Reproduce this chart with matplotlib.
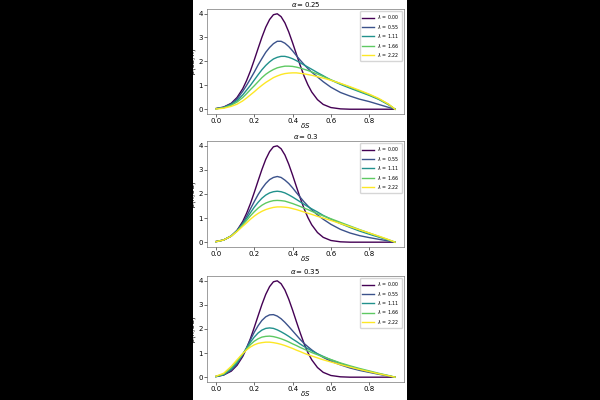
import matplotlib
matplotlib.use("Agg")
import matplotlib.pyplot as plt
from matplotlib.patches import Rectangle

# valores (delta S comun para todas las curvas)
dS = [0.0, 0.04, 0.08, 0.11, 0.14, 0.16, 0.18, 0.20, 0.22, 0.24, 0.26, 0.28, 0.30,
      0.32, 0.34, 0.36, 0.38, 0.40, 0.42, 0.44, 0.46, 0.48, 0.50, 0.53, 0.56, 0.60,
      0.65, 0.70, 0.75, 0.80, 0.85, 0.90, 0.935]

lambdas = ["0.00", "0.55", "1.11", "1.66", "2.22"]
alphas = ["0.25", "0.3", "0.35"]
ylabels = [r"$p(\delta S, \lambda)$", r"$p(\lambda, \delta S)$", r"$p(\lambda, \delta S)$"]

# lambda = 0 es igual en los tres paneles
p_lam0 = [0.03, 0.09, 0.25, 0.49, 0.86, 1.20, 1.60, 2.06, 2.54, 3.01, 3.43, 3.75, 3.95,
          3.99, 3.87, 3.61, 3.23, 2.78, 2.30, 1.83, 1.39, 1.02, 0.72, 0.40, 0.20, 0.07,
          0.015, 0.0, 0.0, 0.0, 0.0, 0.0, 0.0]

# alpha = 0.25
a1_l1 = [0.02, 0.08, 0.23, 0.43, 0.75, 1.00, 1.27, 1.55, 1.85, 2.12, 2.38, 2.58, 2.74,
         2.84, 2.84, 2.76, 2.62, 2.44, 2.24, 2.05, 1.87, 1.70, 1.55, 1.35, 1.15, 0.92,
         0.70, 0.55, 0.42, 0.32, 0.20, 0.08, 0.0]
a1_l2 = [0.02, 0.07, 0.20, 0.36, 0.60, 0.80, 1.00, 1.22, 1.44, 1.65, 1.83, 1.98, 2.10,
         2.17, 2.21, 2.21, 2.17, 2.11, 2.03, 1.94, 1.85, 1.76, 1.67, 1.53, 1.40, 1.22,
         1.04, 0.88, 0.73, 0.58, 0.41, 0.19, 0.0]
a1_l3 = [0.02, 0.06, 0.17, 0.30, 0.49, 0.65, 0.82, 0.98, 1.15, 1.32, 1.46, 1.57, 1.66,
         1.73, 1.77, 1.80, 1.80, 1.79, 1.76, 1.72, 1.67, 1.62, 1.56, 1.47, 1.37, 1.23,
         1.07, 0.92, 0.76, 0.61, 0.43, 0.21, 0.0]
a1_l4 = [0.01, 0.04, 0.12, 0.21, 0.35, 0.47, 0.60, 0.73, 0.87, 1.00, 1.12, 1.22, 1.32,
         1.39, 1.45, 1.49, 1.51, 1.52, 1.52, 1.50, 1.48, 1.45, 1.42, 1.36, 1.30, 1.21,
         1.08, 0.94, 0.79, 0.63, 0.45, 0.22, 0.0]

# alpha = 0.3
a2_l1 = [0.02, 0.09, 0.26, 0.48, 0.80, 1.07, 1.38, 1.68, 1.97, 2.22, 2.43, 2.59, 2.68,
         2.72, 2.68, 2.57, 2.43, 2.25, 2.05, 1.86, 1.67, 1.50, 1.34, 1.13, 0.95, 0.74,
         0.53, 0.38, 0.27, 0.19, 0.12, 0.05, 0.0]
a2_l2 = [0.02, 0.09, 0.26, 0.47, 0.76, 0.98, 1.22, 1.45, 1.65, 1.82, 1.95, 2.04, 2.09,
         2.11, 2.09, 2.04, 1.96, 1.87, 1.77, 1.67, 1.57, 1.47, 1.38, 1.25, 1.11, 0.95,
         0.77, 0.61, 0.46, 0.33, 0.21, 0.09, 0.0]
a2_l3 = [0.02, 0.09, 0.26, 0.46, 0.72, 0.90, 1.09, 1.26, 1.41, 1.53, 1.62, 1.68, 1.72,
         1.73, 1.72, 1.70, 1.65, 1.60, 1.54, 1.48, 1.41, 1.35, 1.28, 1.18, 1.09, 0.97,
         0.82, 0.67, 0.52, 0.38, 0.24, 0.10, 0.0]
a2_l4 = [0.02, 0.09, 0.25, 0.44, 0.66, 0.80, 0.95, 1.08, 1.19, 1.28, 1.35, 1.40, 1.44,
         1.46, 1.46, 1.45, 1.43, 1.39, 1.35, 1.30, 1.25, 1.20, 1.15, 1.07, 1.00, 0.90,
         0.77, 0.64, 0.51, 0.38, 0.25, 0.11, 0.0]

# alpha = 0.35
a3_l1 = [0.02, 0.09, 0.29, 0.55, 0.93, 1.23, 1.55, 1.86, 2.13, 2.35, 2.50, 2.58, 2.59,
         2.53, 2.42, 2.27, 2.10, 1.92, 1.74, 1.56, 1.40, 1.26, 1.13, 0.96, 0.82, 0.66,
         0.51, 0.38, 0.28, 0.20, 0.12, 0.05, 0.0]
a3_l2 = [0.03, 0.11, 0.34, 0.60, 0.95, 1.20, 1.45, 1.66, 1.83, 1.95, 2.02, 2.04, 2.02,
         1.96, 1.88, 1.79, 1.69, 1.58, 1.48, 1.37, 1.27, 1.18, 1.09, 0.97, 0.86, 0.72,
         0.57, 0.44, 0.33, 0.23, 0.14, 0.06, 0.0]
a3_l3 = [0.03, 0.13, 0.39, 0.66, 0.97, 1.17, 1.35, 1.49, 1.59, 1.66, 1.69, 1.70, 1.68,
         1.64, 1.59, 1.53, 1.46, 1.38, 1.31, 1.23, 1.16, 1.09, 1.02, 0.93, 0.84, 0.73,
         0.59, 0.47, 0.36, 0.26, 0.16, 0.07, 0.0]
a3_l4 = [0.04, 0.16, 0.45, 0.72, 0.98, 1.13, 1.25, 1.34, 1.40, 1.43, 1.45, 1.45, 1.43,
         1.40, 1.36, 1.31, 1.25, 1.19, 1.12, 1.06, 0.99, 0.93, 0.88, 0.80, 0.72, 0.63,
         0.52, 0.42, 0.32, 0.23, 0.14, 0.06, 0.0]

paneles = [
    [p_lam0, a1_l1, a1_l2, a1_l3, a1_l4],
    [p_lam0, a2_l1, a2_l2, a2_l3, a2_l4],
    [p_lam0, a3_l1, a3_l2, a3_l3, a3_l4],
]

colores = ["#440154", "#3b528b", "#21918c", "#5ec962", "#fde725"]

fig = plt.figure(figsize=(6, 4), dpi=100, facecolor="black")
# zona blanca en el centro, detras de todo
fondo = Rectangle((193 / 600, 0), 214 / 600, 1, transform=fig.transFigure,
                  facecolor="white", edgecolor="none", zorder=-10)
fig.add_artist(fondo)

# posiciones de los ejes en pixeles (izq, arriba, der, abajo)
cajas = [(207, 9, 404, 114), (207, 141, 404, 247), (207, 276, 404, 382)]

for i in range(3):
    x0, top, x1, bot = cajas[i]
    ax = fig.add_axes([x0 / 600, 1 - bot / 400, (x1 - x0) / 600, (bot - top) / 400])
    for j in range(5):
        ax.plot(dS, paneles[i][j], color=colores[j], lw=1.0,
                label=r"$\lambda$ = " + lambdas[j])
    ax.set_title(r"$\alpha = $" + alphas[i], fontsize=5, pad=1.5)
    ax.set_xlabel(r"$\delta S$", fontsize=5)
    ax.set_ylabel(ylabels[i], fontsize=5)
    ax.xaxis.set_label_coords(0.5, -0.07)
    ax.yaxis.set_label_coords(-0.048, 0.5)
    ax.set_xticks([0.0, 0.2, 0.4, 0.6, 0.8])
    ax.set_yticks([0, 1, 2, 3, 4])
    ax.tick_params(labelsize=5, length=2, width=0.4, pad=1)
    for s in ax.spines.values():
        s.set_linewidth(0.4)
        s.set_color("#555555")
    ax.legend(fontsize=3.4, loc="upper right", handlelength=2.5, borderpad=0.4,
              labelspacing=0.3, framealpha=0.8, edgecolor="#cccccc")

plt.savefig("out.png", dpi=100, facecolor="black")
